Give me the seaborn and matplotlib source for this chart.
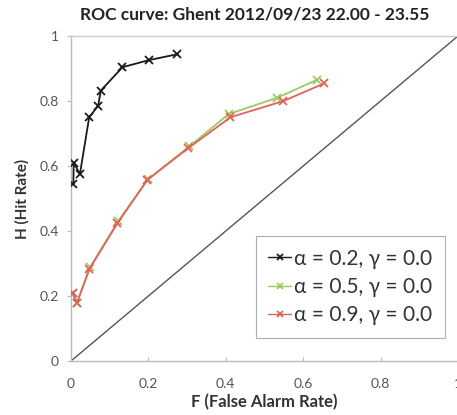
import numpy as np
import pandas as pd
import matplotlib
matplotlib.use("Agg")
import matplotlib.pyplot as plt
import seaborn as sns

title = "ROC curve: Ghent 2012/09/23 22.00 - 23.55"
xlabel = "F (False Alarm Rate)"
ylabel = "H (Hit Rate)"
series_names = ["\u03b1 = 0.2, \u03b3 = 0.0", "\u03b1 = 0.5, \u03b3 = 0.0", "\u03b1 = 0.9, \u03b3 = 0.0"]

f_a02 = [0.006, 0.007, 0.023, 0.047, 0.070, 0.077, 0.133, 0.202, 0.275]
h_a02 = [0.544, 0.610, 0.575, 0.750, 0.785, 0.832, 0.904, 0.926, 0.944]

f_a05 = [0.005, 0.016, 0.050, 0.122, 0.200, 0.305, 0.408, 0.533, 0.635]
h_a05 = [0.210, 0.180, 0.290, 0.430, 0.560, 0.660, 0.760, 0.810, 0.865]

f_a09 = [0.004, 0.015, 0.047, 0.120, 0.197, 0.303, 0.412, 0.549, 0.654]
h_a09 = [0.208, 0.178, 0.282, 0.424, 0.557, 0.655, 0.750, 0.800, 0.854]

diag = [0, 1]
ticks = [0, 0.2, 0.4, 0.6, 0.8, 1]
tick_labels = ["0", "0.2", "0.4", "0.6", "0.8", "1"]

colors = ["#1a1a1a", "#9BCB5C", "#E0625C"]

sns.set_style("white")
plt.rcParams['font.family'] = ['Lato', 'DejaVu Sans']

frames = []
for name, f, h in zip(series_names, [f_a02, f_a05, f_a09], [h_a02, h_a05, h_a09]):
    frames.append(pd.DataFrame({"F": f, "H": h, "series": name, "order": range(len(f))}))
df = pd.concat(frames, ignore_index=True)

fig = plt.figure(figsize=(4.57, 4.15), dpi=100)
ax = fig.add_axes([71/457, 1 - 361/415, 387/457, 325/415])

ax.plot(diag, diag, color="#555555", lw=1.0, zorder=1)

sns.lineplot(data=df, x="F", y="H", hue="series", palette=colors, sort=False,
             marker="x", markersize=6, markeredgewidth=1.3, lw=1.3, ax=ax,
             estimator=None, zorder=3)

for line in ax.get_lines()[1:]:
    line.set_markeredgecolor(line.get_color())

ax.set_xlim(0, 1)
ax.set_ylim(0, 1)
ax.set_xticks(ticks)
ax.set_xticklabels(tick_labels)
ax.set_yticks(ticks)
ax.set_yticklabels(tick_labels)
ax.tick_params(axis='x', direction='in', length=3, color='#bbbbbb', labelsize=10, labelcolor='#555555', pad=12)
ax.tick_params(axis='y', direction='out', length=3, color='#bbbbbb', labelsize=10, labelcolor='#555555', pad=6, left=True)
ax.tick_params(axis='x', bottom=True)
for s in ax.spines.values():
    s.set_color('#cccccc')
    s.set_linewidth(1.0)
ax.spines['left'].set_color('#bbbbbb')
ax.spines['bottom'].set_color('#bbbbbb')

ax.set_xlabel(xlabel, fontsize=12, fontweight='bold', color='#333333', labelpad=3)
ax.set_ylabel(ylabel, fontsize=11, fontweight='bold', color='#333333', labelpad=7)
fig.text(0.558, 1 - 15/415, title, ha='center', va='center', fontsize=12.5, fontweight='bold', color='#222222')

handles, labels = ax.get_legend_handles_labels()
for hd in handles:
    hd.set_markeredgecolor(hd.get_color())
    hd.set_markersize(4)
    hd.set_linewidth(1.0)
leg = ax.legend(handles, labels, loc='lower right', bbox_to_anchor=(0.966, 0.071),
                fontsize=15, frameon=True, fancybox=False, edgecolor='#999999',
                handlelength=1.1, handletextpad=0.15, borderpad=0.6, labelspacing=0.4,
                borderaxespad=0)
for t in leg.get_texts():
    t.set_color('#333333')
leg.get_frame().set_linewidth(0.8)

fig.savefig("out.png", dpi=100)
